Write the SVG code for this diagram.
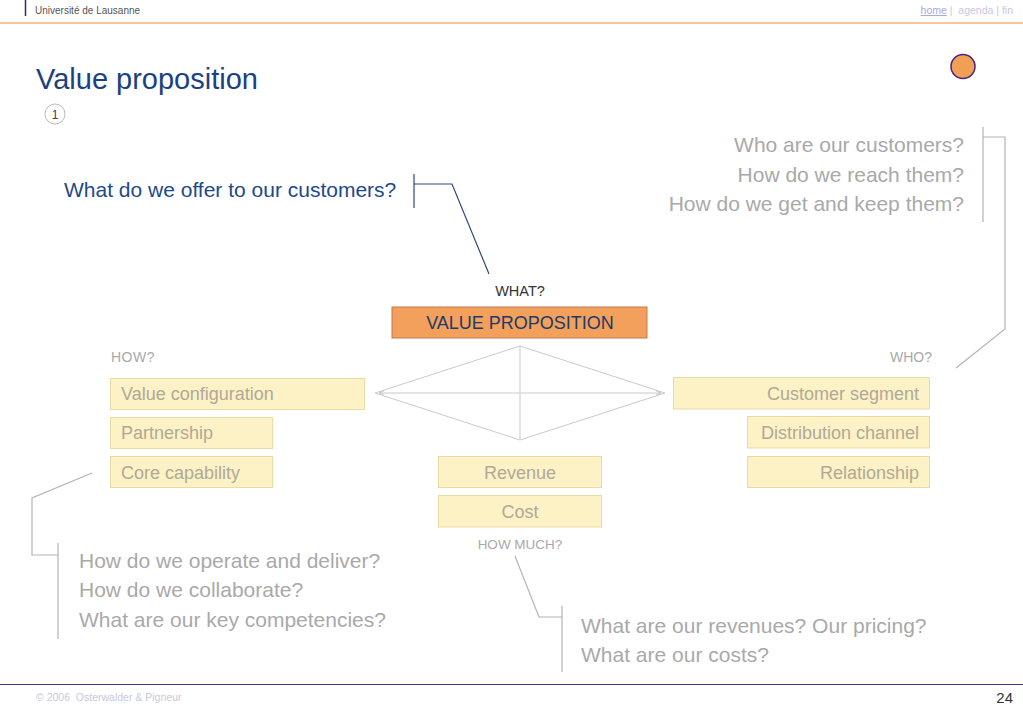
<svg xmlns="http://www.w3.org/2000/svg" width="1023" height="708" viewBox="0 0 1023 708">
<style>
text{font-family:"Liberation Sans",Arial,sans-serif}
.box{fill:#fdf2c6;stroke:#e8dba4;stroke-width:1}
.bt{font-size:18px;fill:#b0a996}
.q{font-size:21px;fill:#a9a9a9}
.lbl{font-size:14px;fill:#a9a9a9}
.br{fill:none;stroke:#b4b4b4;stroke-width:1.2}
.dia{fill:none;stroke:#cacaca;stroke-width:1}
</style>
<defs>
<marker id="ah" viewBox="0 0 8 8" refX="7" refY="4" markerWidth="6" markerHeight="6" orient="auto-start-reverse" markerUnits="userSpaceOnUse">
<path d="M0,1 L7,4 L0,7" fill="none" stroke="#bdbdbd" stroke-width="1"/>
</marker>
</defs>
<rect width="1023" height="708" fill="#ffffff"/>
<g id="header">
<line x1="25.5" y1="0" x2="25.5" y2="16" stroke="#2a2a7a" stroke-width="1.5"/>
<text x="35" y="14" style="font-size:10px;fill:#555">Université de Lausanne</text>
<line x1="0" y1="23" x2="1023" y2="23" stroke="#f2b57a" stroke-width="1.5"/>
<text x="1013" y="14" text-anchor="end" style="font-size:10.5px;fill:#c8c8e0" xml:space="preserve"><tspan fill="#a9a9e2" text-decoration="underline">home</tspan> |  agenda | fin</text>
<circle cx="963" cy="66.5" r="12" fill="#f0a052" stroke="#4a2080" stroke-width="1.5"/>
</g>
<g id="title">
<text x="36" y="89" style="font-size:29px;fill:#1c4180">Value proposition</text>
<circle cx="55" cy="114" r="10" fill="#fff" stroke="#bbbbbb" stroke-width="1"/>
<text x="55" y="118.5" text-anchor="middle" style="font-size:12px;fill:#444">1</text>
</g>
<g id="connectors">
<path class="dia" d="M375,393 L520,346 L665,393 L520,440 Z M520,346 L520,440"/>
<line class="dia" x1="379" y1="393" x2="661" y2="393" marker-start="url(#ah)" marker-end="url(#ah)"/>
<path d="M414,174 L414,208 M414,184 L452,184 L489,274" fill="none" stroke="#2a4a7c" stroke-width="1.2"/>
<path class="br" d="M983,127 L983,222 M983,137 L1005,137 L1005,329 L956,368"/>
<path class="br" d="M92,473 L32,498 L32,555 L58,555 M58,543 L58,639"/>
<path class="br" d="M515,556 L539,617 L562,617 M562,606 L562,672"/>
</g>
<g id="q-what">
<text x="64" y="197" style="font-size:21px;fill:#1c4a8a">What do we offer to our customers?</text>
</g>
<g id="q-who">
<text class="q" x="964" y="152" text-anchor="end">Who are our customers?</text>
<text class="q" x="964" y="182" text-anchor="end">How do we reach them?</text>
<text class="q" x="964" y="211" text-anchor="end">How do we get and keep them?</text>
</g>
<g id="q-how">
<text class="q" x="79" y="568">How do we operate and deliver?</text>
<text class="q" x="79" y="597">How do we collaborate?</text>
<text class="q" x="79" y="627">What are our key competencies?</text>
</g>
<g id="q-howmuch">
<text class="q" x="581" y="633">What are our revenues? Our pricing?</text>
<text class="q" x="581" y="662">What are our costs?</text>
</g>
<g id="value-proposition">
<text x="520" y="296" text-anchor="middle" style="font-size:14.5px;fill:#333">WHAT?</text>
<rect x="392" y="307" width="255" height="31" fill="#f2a05c" stroke="#c07a48" stroke-width="1"/>
<text x="520" y="329" text-anchor="middle" style="font-size:18px;fill:#1c3a6a">VALUE PROPOSITION</text>
</g>
<g id="how">
<text class="lbl" x="111" y="362" letter-spacing="0.5">HOW?</text>
</g>
<g id="value-configuration">
<rect class="box" x="110.5" y="378.5" width="254" height="31"/>
<text class="bt" x="121" y="400">Value configuration</text>
</g>
<g id="partnership">
<rect class="box" x="110.5" y="417.5" width="162" height="31"/>
<text class="bt" x="121" y="439">Partnership</text>
</g>
<g id="core-capability">
<rect class="box" x="110.5" y="456.5" width="162" height="31"/>
<text class="bt" x="121" y="478.5">Core capability</text>
</g>
<g id="who">
<text class="lbl" x="932" y="362" text-anchor="end">WHO?</text>
</g>
<g id="customer-segment">
<rect class="box" x="673.5" y="377.5" width="256" height="31.5"/>
<text class="bt" x="919" y="399.5" text-anchor="end">Customer segment</text>
</g>
<g id="distribution-channel">
<rect class="box" x="747.5" y="416.5" width="182" height="31.5"/>
<text class="bt" x="919" y="438.5" text-anchor="end">Distribution channel</text>
</g>
<g id="relationship">
<rect class="box" x="747.5" y="456.5" width="182" height="31"/>
<text class="bt" x="919" y="478.5" text-anchor="end">Relationship</text>
</g>
<g id="revenue">
<rect class="box" x="438.5" y="456.5" width="163" height="31"/>
<text class="bt" x="520" y="478.5" text-anchor="middle">Revenue</text>
</g>
<g id="cost">
<rect class="box" x="438.5" y="495.5" width="163" height="31.5"/>
<text class="bt" x="520" y="518" text-anchor="middle">Cost</text>
</g>
<g id="how-much">
<text class="lbl" x="520" y="549" text-anchor="middle" style="font-size:13.5px">HOW MUCH?</text>
</g>
<g id="footer">
<line x1="0" y1="684.5" x2="1023" y2="684.5" stroke="#3a3a8a" stroke-width="1.2"/>
<text x="36" y="701" style="font-size:10.5px;fill:#c8c8e2" xml:space="preserve">© 2006  Osterwalder &amp; Pigneur</text>
<text x="1013" y="703" text-anchor="end" style="font-size:15px;fill:#333">24</text>
</g>
</svg>
